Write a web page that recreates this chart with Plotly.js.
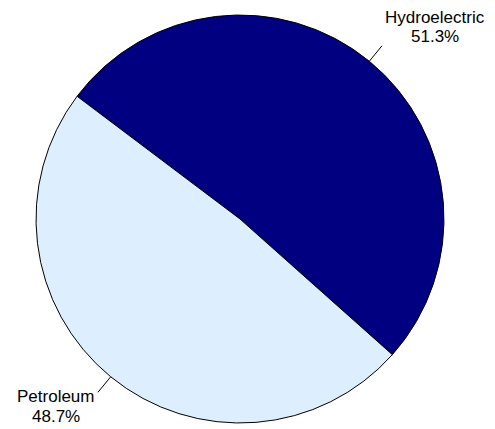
<!DOCTYPE html>
<html>
<head>
<meta charset="utf-8">
<script src="https://cdn.plot.ly/plotly-3.0.1.min.js"></script>
<style>html,body{margin:0;padding:0;background:#fff;}#chart{width:495px;height:429px;}</style>
</head>
<body>
<div id="chart"></div>
<script>
const categories = ["Hydroelectric", "Petroleum"];
const values = [51.3, 48.7];
const colors = ["#000080", "#DDEEFF"];

const W = 495, H = 429;
const domX = [0.0727, 0.897];
const domY = [0.014, 0.965];
const rotation = 307;

const cx = (domX[0] + domX[1]) / 2 * W;
const cy = (1 - (domY[0] + domY[1]) / 2) * H;
const R = Math.min((domX[1] - domX[0]) * W, (domY[1] - domY[0]) * H) / 2;
const total = values.reduce((a, b) => a + b, 0);
const font = {family: "Liberation Sans, Arial, sans-serif", size: 17, color: "#000"};

const shapes = [];
const annotations = [];
let start = rotation;
values.forEach((v, i) => {
  const span = v / total * 360;
  const mid = (start + span / 2) * Math.PI / 180;
  start += span;
  const sx = Math.sin(mid), sy = -Math.cos(mid);
  const p0 = [cx + R * sx, cy + R * sy];
  const p1 = [cx + (R + 20) * sx, cy + (R + 20) * sy];
  shapes.push({
    type: "line", xref: "paper", yref: "paper",
    x0: p0[0] / W, y0: 1 - p0[1] / H, x1: p1[0] / W, y1: 1 - p1[1] / H,
    line: {color: "#000", width: 1}
  });
  const dx = sx >= 0 ? 53 : -42.5;
  const dys = sy < 0 ? [-28.5, -9] : [4, 24];
  const lines = [categories[i], (v / total * 100).toFixed(1) + "%"];
  lines.forEach((t, k) => {
    annotations.push({
      xref: "paper", yref: "paper",
      x: (p1[0] + dx) / W, y: 1 - (p1[1] + dys[k]) / H,
      xanchor: "center", yanchor: "middle",
      showarrow: false,
      text: t,
      font: font
    });
  });
});

const data = [{
  type: "pie",
  labels: categories,
  values: values,
  sort: false,
  direction: "clockwise",
  rotation: rotation,
  textinfo: "none",
  hoverinfo: "none",
  marker: {colors: colors, line: {color: "#000", width: 1}},
  domain: {x: domX, y: domY},
  showlegend: false
}];

const layout = {
  width: W, height: H,
  margin: {l: 0, r: 0, t: 0, b: 0},
  paper_bgcolor: "#fff",
  showlegend: false,
  shapes: shapes,
  annotations: annotations
};

Plotly.newPlot("chart", data, layout, {displayModeBar: false, staticPlot: true});
</script>
</body>
</html>
